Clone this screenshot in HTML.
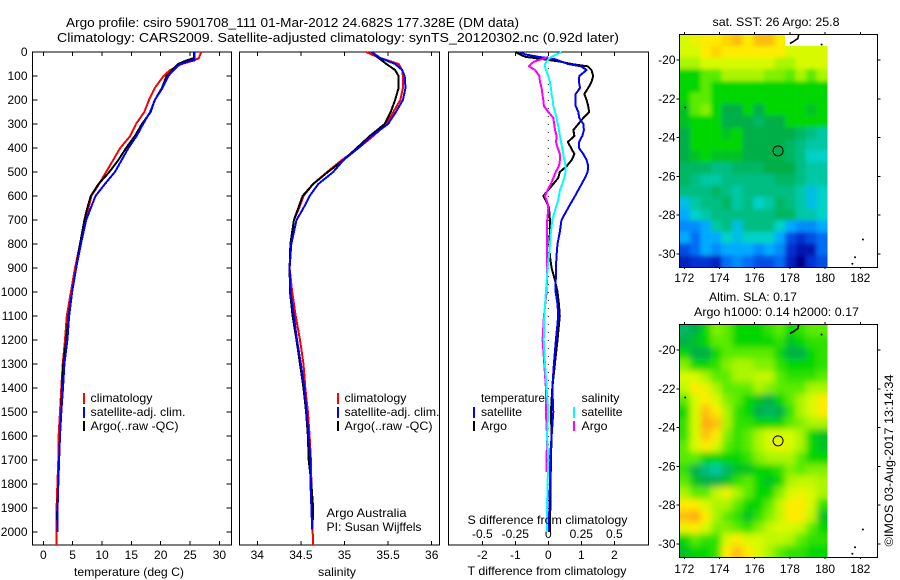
<!DOCTYPE html>
<html>
<head>
<meta charset="utf-8">
<title>Argo profile</title>
<style>
html,body{margin:0;padding:0;background:#fff;}
svg{display:block;font-family:"Liberation Sans",sans-serif;font-size:12px;fill:#000;}
</style>
</head>
<body>
<svg id="fig" xmlns="http://www.w3.org/2000/svg" width="900" height="580" viewBox="0 0 900 580">
<defs id="fig-defs">
<filter id="blur-sst" filterUnits="userSpaceOnUse" x="640" y="0" width="260" height="300"><feGaussianBlur stdDeviation="2"/></filter>
<filter id="blur-sla" filterUnits="userSpaceOnUse" x="640" y="290" width="260" height="290"><feGaussianBlur stdDeviation="3.5"/></filter>
</defs>
<g>
<text x="66" y="27" font-size="13" textLength="453" lengthAdjust="spacingAndGlyphs">Argo profile: csiro 5901708_111 01-Mar-2012 24.682S 177.328E (DM data)</text>
<text x="57" y="42" font-size="13" textLength="562" lengthAdjust="spacingAndGlyphs">Climatology: CARS2009. Satellite-adjusted climatology: synTS_20120302.nc (0.92d later)</text>
</g>
<g id="temp-panel"></g>
<g id="sal-panel"></g>
<g id="diff-panel"></g>
<g id="sst-map"></g>
<g id="sla-map"></g>

<g>
<rect x="83" y="393" width="2" height="11" fill="#f00"/>
<rect x="83" y="407" width="2" height="11" fill="#00f"/>
<rect x="83" y="421" width="2" height="10" fill="#000"/>
<text x="90.5" y="402" textLength="62" lengthAdjust="spacingAndGlyphs">climatology</text>
<text x="90.5" y="416" textLength="95" lengthAdjust="spacingAndGlyphs">satellite-adj. clim.</text>
<text x="90.5" y="430" textLength="88" lengthAdjust="spacingAndGlyphs">Argo(..raw -QC)</text>
</g>
<g>
<rect x="337" y="393" width="2" height="11" fill="#f00"/>
<rect x="337" y="407" width="2" height="11" fill="#00f"/>
<rect x="337" y="421" width="2" height="10" fill="#000"/>
<text x="344.5" y="402" textLength="62" lengthAdjust="spacingAndGlyphs">climatology</text>
<text x="344.5" y="416" textLength="95" lengthAdjust="spacingAndGlyphs">satellite-adj. clim.</text>
<text x="344.5" y="430" textLength="88" lengthAdjust="spacingAndGlyphs">Argo(..raw -QC)</text>
<text x="326.5" y="517" textLength="80" lengthAdjust="spacingAndGlyphs">Argo Australia</text>
<text x="326.5" y="531" textLength="95" lengthAdjust="spacingAndGlyphs">PI: Susan Wijffels</text>
</g>
<g>
<text x="481" y="402" textLength="64" lengthAdjust="spacingAndGlyphs">temperature</text>
<text x="481" y="416" textLength="41" lengthAdjust="spacingAndGlyphs">satellite</text>
<text x="481" y="430" textLength="26" lengthAdjust="spacingAndGlyphs">Argo</text>
<text x="581.5" y="402" textLength="38" lengthAdjust="spacingAndGlyphs">salinity</text>
<text x="581.5" y="416" textLength="41" lengthAdjust="spacingAndGlyphs">satellite</text>
<text x="581.5" y="430" textLength="26" lengthAdjust="spacingAndGlyphs">Argo</text>
<rect x="473" y="407" width="2" height="11" fill="#00f"/>
<rect x="473" y="421" width="2" height="10" fill="#000"/>
<rect x="573" y="407" width="2" height="11" fill="#0ff"/>
<rect x="573" y="421" width="2" height="10" fill="#f0f"/>
</g>
<g>
<text x="74" y="576" textLength="110" lengthAdjust="spacingAndGlyphs">temperature (deg C)</text>
<text x="318" y="576" textLength="38" lengthAdjust="spacingAndGlyphs">salinity</text>
<text x="467.5" y="575" textLength="159" lengthAdjust="spacingAndGlyphs">T difference from climatology</text>
<text x="467.5" y="524" textLength="160" lengthAdjust="spacingAndGlyphs">S difference from climatology</text>
</g>
<g>
<text x="712.5" y="26" textLength="127" lengthAdjust="spacingAndGlyphs">sat. SST: 26 Argo: 25.8</text>
<text x="709" y="301" textLength="88" lengthAdjust="spacingAndGlyphs">Altim. SLA: 0.17</text>
<text x="694" y="316" textLength="165" lengthAdjust="spacingAndGlyphs">Argo h1000: 0.14 h2000: 0.17</text>
<text transform="translate(893,546.5) rotate(-90)" textLength="172" lengthAdjust="spacingAndGlyphs">©IMOS 03-Aug-2017 13:14:34</text>
</g>
</svg>
<script>
// ---------- profile data (depth in m; temperature deg C; salinity; differences) ----------
const tempTicks = [0,5,10,15,20,25,30];
const salTicks = [34,34.5,35,35.5,36];
const salTickLabels = ["34","34.5","35","35.5","36"];
const depthTicks = [0,100,200,300,400,500,600,700,800,900,1000,1100,1200,1300,1400,1500,1600,1700,1800,1900,2000];
const tDiffTicks = [-2,-1,0,1,2];
const sDiffTicks = [-0.5,-0.25,0,0.25,0.5];
const sDiffTickLabels = ["-0.5","-0.25","0","0.25","0.5"];

const tempClimDepth = [0,26,30,40,50,75,100,150,200,250,300,350,400,450,500,550,600,650,700,800,900,1000,1100,1200,1300,1400,1500,1600,1700,1800,1900,2000,2054];
const tempClim = [26.9,26.5,26.1,25,23.6,21.6,20.5,19,18,17.2,15.8,14.8,13.1,11.9,10.7,9.5,8.2,7.7,7.1,6.25,5.4,4.7,4,3.7,3.3,3.07,2.84,2.6,2.55,2.4,2.27,2.27,2.27];
const tempSatDepth = [0,25,35,40,50,75,100,150,200,250,300,350,400,450,500,550,600,650,700,800,900,1000,1100,1200,1300,1400,1500,1600,1700,1800,1900,2000];
const tempSat = [25.8,25.8,25.8,24.7,23.3,22.2,21.3,20.3,19,18.2,17,15.9,14.5,13.35,12.2,10.5,8.9,8.1,7.3,6.4,5.6,4.9,4.4,4.1,3.6,3.35,3.07,2.84,2.7,2.55,2.44,2.4];
const tempArgoDepth = [0,25,30,40,50,75,100,150,200,250,300,350,400,450,500,550,600,650,700,800,900,1000,1100,1200,1300,1400,1500,1600,1700,1800,1900,1950];
const tempArgo = [25.7,25.7,25,23.9,23,22,21,20.2,19,18.3,16.8,15.6,14.1,12.8,11.25,9.4,8.1,7.5,7,6.25,5.6,4.9,4.3,3.9,3.4,3.2,3.07,2.84,2.7,2.55,2.4,2.3];

const salClimDepth = [0,10,25,50,75,100,150,200,250,300,350,400,450,500,550,600,650,700,800,900,1000,1100,1200,1300,1400,1500,1600,1700,1800,1900,2000,2054];
const salClim = [35.25,35.31,35.41,35.62,35.66,35.67,35.67,35.64,35.56,35.48,35.33,35.16,34.97,34.8,34.64,34.53,34.48,34.42,34.38,34.37,34.4,34.44,34.49,34.53,34.55,34.58,34.6,34.615,34.62,34.63,34.635,34.64];
const salSatDepth = [0,10,25,50,75,100,150,200,250,300,350,400,450,500,550,600,650,700,800,900,1000,1100,1200,1300,1400,1500,1600,1700,1800,1900,1990];
const salSat = [35.31,35.35,35.41,35.58,35.66,35.69,35.7,35.67,35.59,35.5,35.31,35.16,34.99,34.87,34.7,34.6,34.53,34.45,34.39,34.37,34.38,34.42,34.455,34.5,34.54,34.565,34.59,34.61,34.61,34.62,34.63];
const salArgoDepth = [0,10,25,50,75,100,150,200,250,300,350,400,450,500,550,600,650,700,800,900,1000,1100,1200,1300,1400,1500,1600,1700,1800,1900,1950];
const salArgo = [35.33,35.34,35.39,35.48,35.58,35.62,35.62,35.58,35.53,35.46,35.29,35.14,34.99,34.81,34.64,34.52,34.47,34.42,34.38,34.37,34.375,34.405,34.45,34.49,34.53,34.56,34.58,34.59,34.62,34.64,34.64];

const tDiffSatDepth = [0,10,20,30,40,50,60,75,100,125,150,175,200,225,250,275,300,325,350,375,400,425,450,475,500,525,550,600,650,700,750,800,850,900,1000,1050,1100,1200,1300,1400,1500,1600,1700,1800,1900,2000];
const tDiffSat = [-.86,-.71,-.3,.2,.4,.6,1,1.16,.94,.93,.96,.83,.83,.83,.91,.94,1.06,1.08,1.03,.93,.93,1.06,1.16,1.21,1.19,1.11,1.01,.81,.6,.4,.35,.28,.25,.23,.22,.28,.3,.23,.17,.12,.15,.1,.05,.05,.03,.02];
const tDiffArgoDepth = [0,10,20,30,40,50,60,75,100,125,150,175,200,225,250,275,300,325,350,375,400,425,450,475,500,525,550,575,600,625,650,700,750,800,850,900,950,1000,1050,1100,1200,1300,1400,1500,1600,1700,1800,1900,2000];
const tDiffArgo = [-.99,-.86,-.7,-.15,.35,.7,1.2,1.31,1.36,1.31,1.21,1.09,1.16,1.21,1.24,1.06,.91,.76,.79,.59,.69,.79,.71,.56,.35,.3,.15,0,-.15,-.05,.02,.05,.05,.03,.05,.1,.2,.28,.32,.35,.28,.2,.12,.08,.1,.08,.07,.06,.05];
const sDiffArgoDepth = [20,30,40,50,60,75,100,125,150,175,200,225,250,275,300,325,350,375,400,425,450,475,500,525,550,575,600,625,650,700,800,900,1000,1100,1200,1300,1400,1500,1600,1700,1750];
const sDiffArgo = [0,-.05,-.106,-.131,-.146,-.101,-.068,-.063,-.051,-.045,-.038,-.033,0,.038,.045,.051,.063,.058,.071,.088,.088,.081,.056,.038,.02,-.005,-.025,-.008,0,-.008,-.008,-.008,-.013,-.033,-.043,-.03,-.018,-.018,-.01,-.013,-.013];
const sDiffSatDepth = [0,10,20,30,40,50,60,75,100,125,150,175,200,225,250,275,300,325,350,375,400,425,450,475,500,525,550,575,600,625,650,700,750,800,850,900,1000,1100,1200,1300,1400,1500,1600,1700,1800,1900,2000];
const sDiffSat = [.101,.063,.025,0,-.013,-.025,-.025,-.018,0,.013,.02,.025,.033,.038,.051,.063,.071,.081,.088,.096,.106,.114,.121,.131,.131,.121,.106,.088,.081,.071,.056,.03,.02,.013,.005,-.005,-.018,-.03,-.035,-.025,-.013,0,-.01,0,-.005,-.01,-.01];

// ---------- map data: colour-scale levels on a 0.6 degree grid, north to south; null = no data ----------
const mapLonStart = 171.72;
const mapLatStart = -18.67;
const mapCellDeg = 0.6;
const lonTicks = [172,174,176,178,180,182];
const latTicks = [-20,-22,-24,-26,-28,-30];
const sstLevels = [
[10,10.5,11,11,11.5,12,11,12,12,11,null,null,null,null],
[10,10,11,11.5,11,11,11,11,11,11,10,10,10,10],
[9,9,10,10,10,10,10,10,10,9,9,10,10,10],
[7,7,8,8,9,9,9,9,8.5,8.5,8,9,8,9],
[7,7,8,7,7,7,7,7,7,7,7,7,7,7],
[7,8,8,7,7,7,7,7,7,7,7,7,7,7],
[6.5,8,8.5,7,6,6,7,6,7,7,7,7,6.5,7],
[6.5,7,7,7,6,6,6,5.5,6,6,7,7,7,7],
[6,7,7,7,6.5,7,6,6,6,6,6,5.5,5,4.5],
[6,7,7,7,7,7,6,6,6,6,5.5,5,4.5,4.5],
[6,6.5,7,6.5,6.5,6.5,6,6,6,6,5.5,5,4,4],
[5.5,5.5,5.5,5,5,5.5,5.5,5.5,6,6,6,5,4.5,4.5],
[5.5,5,4.5,4.5,5,5,5,5,5,5.5,5.5,5,4.5,4.5],
[5,5,5,5.5,5,4.5,5,5,5,5,5,4.5,3.5,4],
[3.5,4.5,5,5,5.5,4.5,5,4,4.5,5.5,5,4.5,3.5,4],
[3,4,4.5,5,5,5,5,5,5,5.5,5.5,4.5,4.5,4],
[2.5,2.5,3,4.5,5,3.5,5,5,5,4,3,2.5,2.5,3],
[3,2,3,3,4,3.5,4,4,4,3,1.5,1,1.5,2],
[1.5,2,3,2.5,3,3,3,2.5,3,2.5,1,.5,.5,2],
[.7,1,1,.7,2,2.5,2,1.5,1.5,2,.7,0,1,1.5]
];
const slaLevels = [
[5.5,6,7,8.5,8,7,7,7,7.5,8,7,7.5,8,8],
[6,6.5,7,8,8,7,7,7,7,7.5,6.5,7,7.5,7.5],
[7,6,6,7,8,8,8,8,8,7,6,6,7,7.5],
[8.5,7,7,7.5,8.5,9,9,8.5,8.5,7.5,7,7,7,7.5],
[10,10,9,8,8,9,9,9.5,9.5,8,7.5,7.5,7.5,8],
[9.5,11,10.5,9,8,8,8,9,8.5,8,8,8,9,9],
[8,10,11,10,8.5,8,7,6.5,6,7,8,9,10,11],
[7,10,12,11,9,7.5,7,6,5.5,6,7.5,9,10,11],
[7.5,10,12.5,12,9,7.5,7.5,7,7,7,8,8.5,9,9],
[7.5,10,12,11,8.5,7.5,8,9,10,10,10,9,7,6.5],
[8,10,11,10,8,7.5,8,9,10,10.5,10,9,7,6.5],
[8,8,7,7,7,7,7.5,8.5,9,9,9,8,7,7],
[7.5,6,5,4.5,5.5,6.5,6.5,7,7,7.5,8.5,8,8.5,8.5],
[8,6.5,6,6,6.5,7.5,8,7,6.5,7,9,9.5,9.5,9],
[9,8,8,9.5,10.5,9,8,7,7,8.5,10,10.5,10,9],
[11,11,10,9,9,8,7,7,8,9.5,11,11,10,7.5],
[12,12.5,11,9,8,7.5,6.5,7.5,8.5,9.5,11,11,9.5,6.5],
[10.5,11,10,8.5,8.5,8,7.5,8.5,9.5,10,10,9.5,8,7],
[7,8,7.5,7.5,10,11,10,10,9.5,9.5,9,8,7.5,7.5],
[6.5,7,7,7.5,11,12,11,10,9,8,7.5,7.5,7,7]
];
const profileLon = [177.328];
const profileLat = [-24.682];
const coastLon = [178.0,178.2,178.35,178.45,178.5];
const coastLat = [-19.15,-19.05,-18.95,-18.9,-18.7];
const islandLon = [179.8,172.05,182.15,181.7,181.55];
const islandLat = [-19.2,-22.45,-29.25,-30.17,-30.5];

const NS = 'http://www.w3.org/2000/svg';
function el(parent, tag, attrs, text){
  const e = document.createElementNS(NS, tag);
  for (const k in attrs) e.setAttribute(k, attrs[k]);
  if (text !== undefined) e.textContent = text;
  parent.appendChild(e);
  return e;
}

// ---------- profile axes ----------
const yTop = 52, pxPerM = 0.24, panelBottom = 545;
function yDepth(d){ return yTop + d * pxPerM; }
function xTemp(v){ return 43.3 + v * 5.87; }
function xSal(v){ return 257.3 + (v - 34) * 87.2; }
function xTDiff(v){ return 548.3 + v * 33; }
function xSDiff(v){ return 548.3 + v * 132; }

function frame(parent, x0, x1, y0, y1, name){
  const r = el(parent, 'rect', {x:x0, y:y0, width:x1-x0, height:y1-y0, fill:'none', stroke:'#000', 'stroke-width':1, 'shape-rendering':'crispEdges'});
  
  
}
function tick(parent, x1, y1, x2, y2){
  const t = el(parent, 'line', {x1:x1, y1:y1, x2:x2, y2:y2, stroke:'#000', 'stroke-width':1, 'shape-rendering':'crispEdges'});
  
  
}
function label(parent, x, y, s, anchor){
  const t = el(parent, 'text', {x:x, y:y, 'text-anchor':anchor}, s);
  
  
}
function series(parent, depths, values, xf, color, name, width){
  const pts = depths.map((d, i) => xf(values[i]).toFixed(1) + ',' + yDepth(d).toFixed(1)).join(' ');
  const p = el(parent, 'polyline', {points:pts, fill:'none', stroke:color, 'stroke-width':width, 'shape-rendering':'crispEdges', 'stroke-linejoin':'round'});
  
  
}

const tempG = document.getElementById('temp-panel');
const salG = document.getElementById('sal-panel');
const diffG = document.getElementById('diff-panel');

// temperature panel
frame(tempG, 32.5, 231.5, yTop, panelBottom, 'temperature-plot-frame');
depthTicks.forEach(d => {
  tick(tempG, 32.5, yDepth(d), 37.5, yDepth(d));
  tick(tempG, 226.5, yDepth(d), 231.5, yDepth(d));
  label(tempG, 27.5, yDepth(d) + 4, String(d), 'end');
});
tempTicks.forEach(v => {
  tick(tempG, xTemp(v), yTop, xTemp(v), yTop + 4);
  tick(tempG, xTemp(v), panelBottom - 4, xTemp(v), panelBottom);
  label(tempG, xTemp(v), 559, String(v), 'middle');
});
series(tempG, tempClimDepth, tempClim, xTemp, '#f00', 'temperature-climatology-line', 2);
series(tempG, tempArgoDepth, tempArgo, xTemp, '#000', 'temperature-argo-line', 2);
series(tempG, tempSatDepth, tempSat, xTemp, '#00f', 'temperature-satellite-line', 2);

// salinity panel
frame(salG, 239.5, 439.5, yTop, panelBottom, 'salinity-plot-frame');
salTicks.forEach((v, i) => {
  tick(salG, xSal(v), yTop, xSal(v), yTop + 4);
  tick(salG, xSal(v), panelBottom - 4, xSal(v), panelBottom);
  label(salG, xSal(v), 559, salTickLabels[i], 'middle');
});
series(salG, salClimDepth, salClim, xSal, '#f00', 'salinity-climatology-line', 2);
series(salG, salArgoDepth, salArgo, xSal, '#000', 'salinity-argo-line', 2);
series(salG, salSatDepth, salSat, xSal, '#00f', 'salinity-satellite-line', 2);

// difference panel
frame(diffG, 448.5, 648.5, yTop, panelBottom, 'difference-plot-frame');
const zero = el(diffG, 'line', {x1:xTDiff(0), y1:yDepth(0), x2:xTDiff(0), y2:yDepth(2000), stroke:'#000', 'stroke-width':1, 'stroke-dasharray':'1 7'});


tDiffTicks.forEach(v => {
  tick(diffG, xTDiff(v), yTop, xTDiff(v), yTop + 4);
  tick(diffG, xTDiff(v), panelBottom - 4, xTDiff(v), panelBottom);
  label(diffG, xTDiff(v), 559, String(v), 'middle');
});
sDiffTicks.forEach((v, i) => {
  label(diffG, xSDiff(v), 538, sDiffTickLabels[i], 'middle');
});
series(diffG, tDiffArgoDepth, tDiffArgo, xTDiff, '#000', 't-difference-argo-line', 2);
series(diffG, tDiffSatDepth, tDiffSat, xTDiff, '#00f', 't-difference-satellite-line', 2);
series(diffG, sDiffArgoDepth, sDiffArgo, xSDiff, '#f0f', 's-difference-argo-line', 2);
series(diffG, sDiffSatDepth, sDiffSat, xSDiff, '#0ff', 's-difference-satellite-line', 2);

// ---------- maps ----------
const palette = [[0,0,140],[0,50,210],[0,110,245],[0,170,255],[0,210,200],[0,190,130],[0,175,70],[0,215,0],[90,235,0],[170,245,0],[215,250,0],[255,235,0],[255,190,10],[255,150,20]];
function levelColor(v){
  const i = Math.max(0, Math.min(palette.length - 2, Math.floor(v)));
  const f = Math.max(0, Math.min(1, v - i));
  const c = palette[i].map((p, k) => Math.round(p + (palette[i + 1][k] - p) * f));
  return 'rgb(' + c.join(',') + ')';
}
function drawMap(g, levels, lat20y, tickLabelY, prefix){
  function xLon(v){ return 684.3 + (v - 172) * 17.6; }
  function yLat(v){ return lat20y + (-20 - v) * 19.4; }
  const top = yLat(-18.67), bottom = yLat(-30.67), left = 679.5, right = 877.5;
  const cw = mapCellDeg * 17.6, ch = mapCellDeg * 19.4, pad = 14;
  const defs = document.getElementById('fig-defs');
  const clip = el(defs, 'clipPath', {id: prefix + '-data-clip'});
  const clipG = el(g, 'g', {'clip-path': 'url(#' + prefix + '-data-clip)'});
  
  
  const blurG = el(clipG, 'g', {filter: 'url(#blur-' + prefix + ')'});
  
  
  levels.forEach((row, r) => row.forEach((v, c) => {
    let x = xLon(mapLonStart + c * mapCellDeg), y = yLat(mapLatStart - r * mapCellDeg);
    if (v !== null) el(clip, 'rect', {x:x, y:y, width:cw + 0.3, height:ch + 0.3});
    const shown = v === null ? levels[r + 1][c] : v;
    let w = cw + 0.3, h = ch + 0.3;
    if (c === 0) { x -= pad; w += pad; }
    if (c === row.length - 1) { w += pad; }
    if (r === 0) { y -= pad; h += pad; }
    if (r === levels.length - 1) { h += pad; }
    const cell = el(blurG, 'rect', {x:x, y:y, width:w, height:h, fill:levelColor(shown), 'shape-rendering':'crispEdges'});
    
    
  }));
  const coast = el(g, 'polyline', {points: coastLon.map((v, i) => xLon(v).toFixed(1) + ',' + yLat(coastLat[i]).toFixed(1)).join(' '), fill:'none', stroke:'#000', 'stroke-width':1.6});
  
  
  islandLon.forEach((v, i) => {
    const isl = el(g, 'circle', {cx:xLon(v), cy:yLat(islandLat[i]), r:1, fill:'#000'});
    
    
  });
  const fr = el(g, 'rect', {x:left, y:Math.round(top) + 0.5, width:right - left, height:Math.round(bottom - top), fill:'none', stroke:'#000', 'stroke-width':1, 'shape-rendering':'crispEdges'});
  
  
  lonTicks.forEach(v => {
    tick(g, xLon(v), top - 2, xLon(v), top);
    tick(g, xLon(v), bottom, xLon(v), bottom + 2);
    label(g, xLon(v), tickLabelY, String(v), 'middle');
  });
  latTicks.forEach(v => {
    tick(g, left - 3, yLat(v), left, yLat(v));
    tick(g, right, yLat(v), right + 3, yLat(v));
    label(g, left - 4, yLat(v) + 4, String(v), 'end');
  });
  const mark = el(g, 'circle', {cx:xLon(profileLon[0]), cy:yLat(profileLat[0]), r:5, fill:'none', stroke:'#000', 'stroke-width':1});
  
  
}
drawMap(document.getElementById('sst-map'), sstLevels, 60, 282, 'sst');
drawMap(document.getElementById('sla-map'), slaLevels, 350, 573, 'sla');
</script>
</body>
</html>
